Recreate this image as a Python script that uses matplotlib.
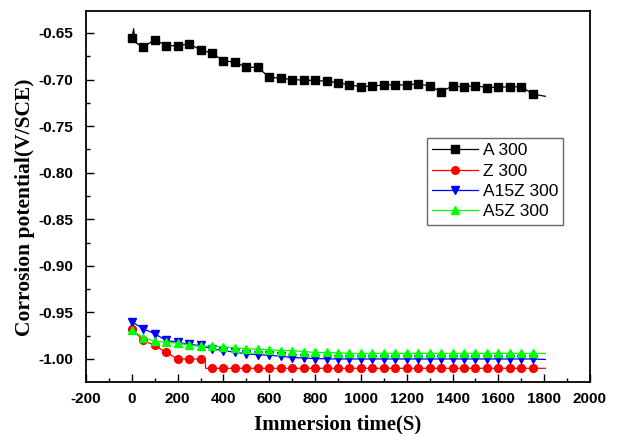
import matplotlib
matplotlib.use("Agg")
import matplotlib.pyplot as plt
from matplotlib.ticker import MultipleLocator

plt.rcParams["axes.unicode_minus"] = False

# ---- data ----
series_names = ["A 300", "Z 300", "A15Z 300", "A5Z 300"]

# A 300 (line includes a few non-marker points: start spike, end point)
a_time = [0, 8, 14, 50, 100, 150, 200, 250, 300, 350, 400, 450, 500, 550, 600,
          650, 700, 750, 800, 850, 900, 950, 1000, 1050, 1100, 1150, 1200, 1250,
          1300, 1350, 1400, 1450, 1500, 1550, 1600, 1650, 1700, 1750, 1805]
a_val = [-0.6557, -0.6455, -0.6600, -0.6653, -0.6572, -0.6636, -0.6636, -0.6618,
         -0.6680, -0.6718, -0.6797, -0.6815, -0.6868, -0.6870, -0.6975, -0.6986,
         -0.7000, -0.7007, -0.7010, -0.7018, -0.7033, -0.7057, -0.7076, -0.7070,
         -0.7058, -0.7058, -0.7058, -0.7047, -0.7070, -0.7130, -0.7070, -0.7080,
         -0.7065, -0.7087, -0.7080, -0.7080, -0.7076, -0.7155, -0.7180]
a_marks = [0] + list(range(3, 38))

# Z 300 (step near 320 s)
z_time = [0, 50, 100, 150, 200, 250, 300, 320, 322, 350, 400, 450, 500, 550, 600,
          650, 700, 750, 800, 850, 900, 950, 1000, 1050, 1100, 1150, 1200, 1250,
          1300, 1350, 1400, 1450, 1500, 1550, 1600, 1650, 1700, 1750, 1805]
z_val = [-0.968, -0.980, -0.9855, -0.9927, -1.000, -1.000, -1.000, -1.000, -1.010,
         -1.010, -1.010, -1.010, -1.010, -1.010, -1.010, -1.010, -1.010, -1.010,
         -1.010, -1.010, -1.010, -1.010, -1.010, -1.010, -1.010, -1.010, -1.010,
         -1.010, -1.010, -1.010, -1.010, -1.010, -1.010, -1.010, -1.010, -1.010,
         -1.010, -1.010, -1.010]
z_marks = list(range(0, 7)) + list(range(9, 38))

# A15Z 300
b_time = [0, 50, 100, 150, 200, 250, 300, 350, 400, 450, 500, 550, 600, 650, 700,
          750, 800, 850, 900, 950, 1000, 1050, 1100, 1150, 1200, 1250, 1300, 1350,
          1400, 1450, 1500, 1550, 1600, 1650, 1700, 1750, 1805]
b_val = [-0.9600, -0.9676, -0.9730, -0.9800, -0.9820, -0.9844, -0.9855, -0.9890,
         -0.9910, -0.9927, -0.9944, -0.9955, -0.9960, -0.9970, -0.9984, -0.9990,
         -0.9995, -0.9998, -1.0000, -1.0000, -1.0000, -1.0000, -1.0000, -1.0000,
         -1.0000, -1.0000, -1.0000, -1.0000, -1.0000, -1.0000, -1.0000, -1.0000,
         -1.0000, -1.0000, -1.0000, -1.0000, -1.0005]
b_marks = list(range(0, 36))

# A5Z 300
g_time = b_time
g_val = [-0.969, -0.977, -0.981, -0.982, -0.983, -0.985, -0.9865, -0.986,
         -0.987, -0.988, -0.989, -0.9895, -0.990, -0.991, -0.991, -0.992,
         -0.993, -0.993, -0.9935, -0.994, -0.994, -0.994, -0.994, -0.994, -0.994,
         -0.994, -0.994, -0.994, -0.994, -0.994, -0.994, -0.994, -0.994, -0.994,
         -0.994, -0.994, -0.994]
g_marks = list(range(0, 36))

x_ticks = [-200, 0, 200, 400, 600, 800, 1000, 1200, 1400, 1600, 1800, 2000]
y_ticks = [-1.00, -0.95, -0.90, -0.85, -0.80, -0.75, -0.70, -0.65]

# ---- figure ----
fig = plt.figure(figsize=(6.2, 4.34), dpi=100)
ax = fig.add_axes([0.1387, 0.1198, 0.8129, 0.8549])

ax.plot(a_time, a_val, color="black", lw=0.9, marker="s", ms=5.4,
        markevery=a_marks, label=series_names[0])
ax.plot(z_time, z_val, color="#ff0000", lw=0.9, marker="o", ms=5.6,
        markevery=z_marks, label=series_names[1])
ax.plot(b_time, b_val, color="#0000ff", lw=0.9, marker="v", ms=6.4,
        markevery=b_marks, label=series_names[2])
ax.plot(g_time, g_val, color="#00ff00", lw=0.9, marker="^", ms=6.4,
        markevery=g_marks, label=series_names[3])

ax.set_xlim(-200, 2000)
ax.set_ylim(-1.0247, -0.6264)
ax.set_xticks(x_ticks)
ax.set_yticks(y_ticks)
ax.set_xticklabels([str(v) for v in x_ticks])
ax.set_yticklabels([f"{v:.2f}" for v in y_ticks])
ax.xaxis.set_minor_locator(MultipleLocator(100))
ax.yaxis.set_minor_locator(MultipleLocator(0.025))

for lab in ax.get_xticklabels() + ax.get_yticklabels():
    lab.set_fontfamily("Liberation Sans")
    lab.set_fontsize(11)
    lab.set_fontweight("bold")

ax.tick_params(which="both", direction="in", top=False, right=False, width=1.0)
ax.tick_params(which="major", length=6)
ax.tick_params(axis="x", which="major", pad=7)
ax.tick_params(axis="y", which="major", pad=9)
ax.tick_params(which="minor", length=3)
for s in ax.spines.values():
    s.set_linewidth(1.3)

ax.set_xlabel("Immersion time(S)", fontfamily="Liberation Serif",
              fontweight="bold", fontsize=15, labelpad=6)
ax.set_ylabel("Corrosion potential(V/SCE)", fontfamily="Liberation Serif",
              fontweight="bold", fontsize=15.5)
ax.yaxis.set_label_coords(-0.101, 0.47)

leg = ax.legend(loc="upper left", bbox_to_anchor=(0.677, 0.658),
                prop={"family": "Liberation Sans", "size": 12.5},
                frameon=True, fancybox=False, edgecolor="#444444",
                handlelength=2.6, handletextpad=0.3, borderpad=0.3,
                labelspacing=0.3, borderaxespad=0)
leg.get_frame().set_linewidth(1.0)
for h in leg.legend_handles:
    h.set_markersize(5.5)

fig.savefig("out.png", dpi=100)
